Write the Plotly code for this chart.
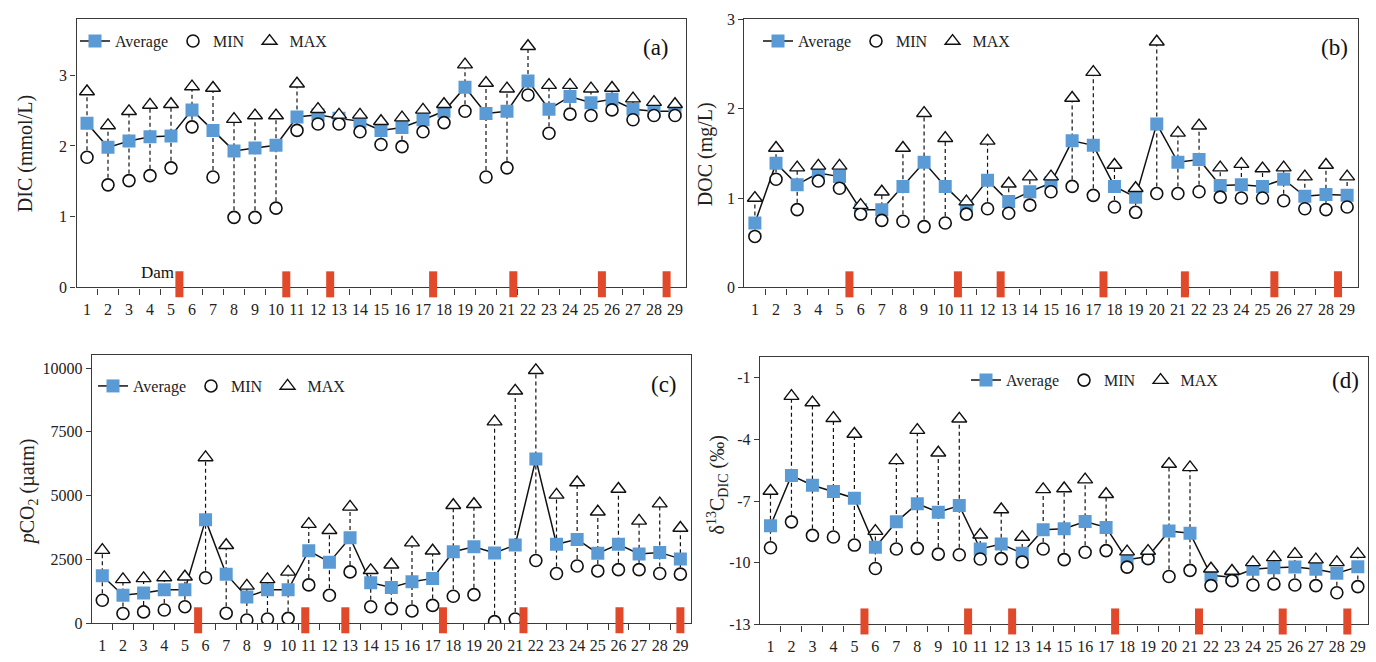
import plotly.graph_objects as go

# ---------------- data ----------------
sites = list(range(1, 30))

dic_avg = [2.32, 1.98, 2.07, 2.13, 2.14, 2.51, 2.22, 1.93, 1.97, 2.01, 2.41, 2.44, 2.39, 2.35, 2.22,
           2.26, 2.37, 2.49, 2.83, 2.46, 2.49, 2.92, 2.52, 2.70, 2.61, 2.66, 2.52, 2.49, 2.49]
dic_min = [1.84, 1.45, 1.51, 1.58, 1.69, 2.27, 1.56, 0.99, 0.99, 1.12, 2.22, 2.31, 2.31, 2.20, 2.02,
           1.99, 2.20, 2.33, 2.49, 1.56, 1.69, 2.72, 2.18, 2.45, 2.43, 2.51, 2.37, 2.43, 2.43]
dic_max = [2.77, 2.29, 2.49, 2.58, 2.59, 2.84, 2.82, 2.38, 2.43, 2.43, 2.88, 2.52, 2.44, 2.44, 2.35,
           2.40, 2.51, 2.59, 3.15, 2.89, 2.81, 3.41, 2.86, 2.86, 2.81, 2.82, 2.67, 2.62, 2.59]

doc_avg = [0.72, 1.39, 1.15, 1.28, 1.24, 0.87, 0.87, 1.13, 1.40, 1.13, 0.90, 1.20, 0.96, 1.07, 1.17,
           1.64, 1.59, 1.13, 1.01, 1.83, 1.40, 1.43, 1.14, 1.15, 1.13, 1.21, 1.02, 1.04, 1.03]
doc_min = [0.57, 1.21, 0.87, 1.19, 1.11, 0.82, 0.75, 0.74, 0.68, 0.72, 0.82, 0.88, 0.83, 0.92, 1.07,
           1.13, 1.03, 0.90, 0.84, 1.05, 1.05, 1.07, 1.01, 1.00, 1.00, 0.97, 0.88, 0.87, 0.90]
doc_max = [1.00, 1.56, 1.34, 1.36, 1.36, 0.92, 1.07, 1.56, 1.95, 1.67, 0.96, 1.64, 1.16, 1.24, 1.24,
           2.12, 2.41, 1.37, 1.11, 2.75, 1.73, 1.81, 1.34, 1.38, 1.33, 1.34, 1.24, 1.37, 1.24]

pco2_avg = [1860, 1096, 1185, 1312, 1312, 4051, 1924, 1032, 1312, 1312, 2841, 2395, 3350, 1592, 1401,
            1631, 1758, 2803, 2994, 2752, 3070, 6433, 3096, 3287, 2739, 3096, 2713, 2777, 2522]
pco2_min = [904, 382, 446, 522, 650, 1783, 395, 127, 166, 191, 1503, 1096, 2013, 650, 573,
            484, 701, 1057, 1121, 64, 166, 2459, 1949, 2242, 2051, 2102, 2102, 1949, 1924]
pco2_max = [2866, 1720, 1758, 1796, 1822, 6497, 3057, 1465, 1720, 2013, 3885, 3643, 4561, 2076, 2293,
            3159, 2841, 4624, 4662, 7898, 9108, 9911, 5032, 5516, 4369, 5261, 4013, 4688, 3732]

d13c_avg = [-8.20, -5.76, -6.23, -6.54, -6.86, -9.25, -8.01, -7.13, -7.54, -7.22, -9.33, -9.09, -9.54,
            -8.39, -8.35, -7.99, -8.28, -9.85, -9.70, -8.46, -8.56, -10.61, -10.70, -10.32, -10.24,
            -10.21, -10.32, -10.51, -10.20]
d13c_min = [-9.27, -8.01, -8.67, -8.75, -9.14, -10.28, -9.33, -9.30, -9.58, -9.61, -9.82, -9.80, -9.96,
            -9.33, -9.85, -9.49, -9.41, -10.21, -9.80, -10.67, -10.37, -11.11, -10.87, -11.08, -11.03,
            -11.08, -11.11, -11.46, -11.16]
d13c_max = [-6.51, -1.90, -2.21, -2.97, -3.74, -8.46, -5.02, -3.55, -4.65, -3.00, -8.64, -7.41, -8.75,
            -6.43, -6.39, -5.96, -6.67, -9.46, -9.43, -5.20, -5.36, -10.29, -10.40, -9.98, -9.74,
            -9.58, -9.85, -9.98, -9.58]

# dam locations along the river (between sampling sites)
dam_a = [5.4, 10.49, 12.58, 17.48, 21.3, 25.52, 28.6]
dam_b = [5.47, 10.6, 12.62, 17.48, 21.33, 25.56, 28.57]
dam_c = [5.64, 10.83, 12.77, 17.5, 21.4, 26.05, 29.0]
dam_d = [5.48, 10.42, 12.52, 17.43, 21.43, 25.42, 28.5]

y_ticks_a = [0, 1, 2, 3]
y_ticks_b = [0, 1, 2, 3]
y_ticks_c = [0, 2500, 5000, 7500, 10000]
y_ticks_d = [-13, -10, -7, -4, -1]

# ---------------- layout helpers ----------------
W, H = 1376, 662
FONT = "Liberation Serif"
BLUE = "#5B9BD5"
RED = "#E2492B"
AXC = "#3a3a3a"


def px_x(v):
    return v / W


def px_y(v):
    return 1 - v / H


panels = [
    dict(avg=dic_avg, mn=dic_min, mx=dic_max, dams=dam_a, ticks=y_ticks_a, yr=[0, 3.79],
         box=(76.5, 685.5, 11.7, 286.7), leg=(75, 34), letter=("(a)", 656, 41),
         title=("DIC (mmol/L)", 25, 150)),
    dict(avg=doc_avg, mn=doc_min, mx=doc_max, dams=dam_b, ticks=y_ticks_b, yr=[0, 3],
         box=(744.3, 1357.7, 11.7, 286.7), leg=(758, 34), letter=("(b)", 1334, 41),
         title=("DOC (mg/L)", 705, 150)),
    dict(avg=pco2_avg, mn=pco2_min, mx=pco2_max, dams=dam_c, ticks=y_ticks_c, yr=[0, 10515],
         box=(92.0, 690.7, 356.0, 631.5), leg=(93, 388), letter=("(c)", 664, 386),
         title=("<i>p</i>CO<sub>2</sub> (µatm)", 28, 497)),
    dict(avg=d13c_avg, mn=d13c_min, mx=d13c_max, dams=dam_d, ticks=y_ticks_d, yr=[-13, 0],
         box=(760.0, 1368.3, 358.3, 632.7), leg=(966, 382), letter=("(d)", 1345, 382),
         title=("δ<sup>13</sup>C<sub>DIC</sub> (‰)", 718, 490)),
]

fig = go.Figure()
shapes = []
annotations = []

for k, p in enumerate(panels):
    n = "" if k == 0 else str(k + 1)
    xa, ya = "x" + n, "y" + n
    leg = "legend" + n

    # high-low dashed lines
    lx, ly = [], []
    for s, lo, hi in zip(sites, p["mn"], p["mx"]):
        lx += [s, s, None]
        ly += [lo, hi, None]
    fig.add_trace(go.Scatter(x=lx, y=ly, mode="lines", xaxis=xa, yaxis=ya,
                             line=dict(color="#111", width=1.2, dash="4px,3px"),
                             showlegend=False, hoverinfo="skip"))
    fig.add_trace(go.Scatter(x=sites, y=p["avg"], mode="lines+markers", name="Average",
                             xaxis=xa, yaxis=ya, legend=leg,
                             line=dict(color="#111", width=1.5),
                             marker=dict(symbol="square", size=13, color=BLUE,
                                         line=dict(width=0))))
    fig.add_trace(go.Scatter(x=sites, y=p["mn"], mode="markers", name="MIN",
                             xaxis=xa, yaxis=ya, legend=leg,
                             marker=dict(symbol="circle", size=12, color="white",
                                         line=dict(color="#111", width=1.6))))
    fig.add_trace(go.Scatter(x=sites, y=p["mx"], mode="markers", name="MAX",
                             xaxis=xa, yaxis=ya, legend=leg,
                             marker=dict(symbol="triangle-up", size=13, color="white",
                                         line=dict(color="#111", width=1.4))))

    l, r, t, b = p["box"]
    axis_common = dict(showline=True, linecolor=AXC, linewidth=1.4, mirror=True,
                       showgrid=False, zeroline=False,
                       tickfont=dict(family=FONT, size=16, color="#222"))
    fig.update_layout(**{
        "xaxis" + n: dict(domain=[px_x(l), px_x(r)], anchor=ya, range=[0.5, 29.5],
                          tickmode="array", tickvals=sites, ticktext=[str(s) for s in sites],
                          ticks="outside", ticklen=7, tickcolor="rgba(0,0,0,0)",
                          minor=dict(tickvals=[s + 0.5 for s in sites[:-1]], ticks="outside",
                                     ticklen=6, tickcolor=AXC, tickwidth=1.3),
                          **axis_common),
        "yaxis" + n: dict(domain=[px_y(b), px_y(t)], anchor=xa, range=p["yr"],
                          tickmode="array", tickvals=p["ticks"],
                          ticktext=[str(v) for v in p["ticks"]],
                          ticks="outside", ticklen=5, tickcolor=AXC, tickwidth=1.3,
                          **axis_common),
        leg: dict(orientation="h", x=px_x(p["leg"][0]), y=px_y(p["leg"][1]),
                  xanchor="left", yanchor="middle", bgcolor="rgba(0,0,0,0)",
                  font=dict(family=FONT, size=16, color="#222"), itemwidth=30,
                  tracegroupgap=0),
    })

    # dam markers
    for d in p["dams"]:
        shapes.append(dict(type="rect", xref=xa, yref="paper", layer="above",
                           xsizemode="pixel", xanchor=d, x0=-4, x1=4,
                           ysizemode="pixel", yanchor=px_y(b), y0=-10, y1=16,
                           fillcolor=RED, line=dict(width=0)))

    txt, lxp, lyp = p["letter"]
    annotations.append(dict(text=txt, xref="paper", yref="paper", x=px_x(lxp), y=px_y(lyp),
                            xanchor="center", yanchor="middle", showarrow=False,
                            font=dict(family=FONT, size=23, color="#111")))
    ttl, txp, typ = p["title"]
    annotations.append(dict(text=ttl, xref="paper", yref="paper", x=px_x(txp), y=px_y(typ),
                            xanchor="center", yanchor="middle", showarrow=False, textangle=-90,
                            font=dict(family=FONT, size=20, color="#222")))

annotations.append(dict(text="Dam", xref="paper", yref="paper", x=px_x(176), y=px_y(271),
                        xanchor="right", yanchor="middle", showarrow=False,
                        font=dict(family=FONT, size=17, color="#111")))

fig.update_layout(width=W, height=H, margin=dict(l=0, r=0, t=0, b=0),
                  paper_bgcolor="white", plot_bgcolor="white",
                  shapes=shapes, annotations=annotations)

fig.write_html("out.html", config={"displayModeBar": False},
               post_script="document.body.style.margin='0px';document.body.style.overflow='hidden';")
